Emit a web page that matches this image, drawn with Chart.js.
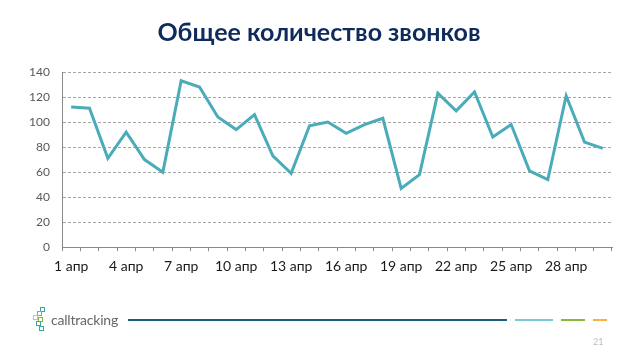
<!DOCTYPE html>
<html>
<head>
<meta charset="utf-8">
<script src="https://cdn.jsdelivr.net/npm/chart.js@4"></script>
<style>
  html, body { margin: 0; padding: 0; background: #fff; }
  #wrap { position: relative; width: 638px; height: 359px; overflow: hidden; }
  #callsChart { position: absolute; left: 0; top: 0; }
  .bar { position: absolute; height: 2px; }
  .sq { position: absolute; width: 5px; height: 5px; border: 1px solid; box-sizing: border-box; }
  #brand { position: absolute; left: 51px; top: 311px; font-family: Lato, sans-serif; font-size: 14px; color: #666; letter-spacing: -0.2px; }
  #page { position: absolute; left: 593px; top: 336px; font-family: Lato, sans-serif; font-size: 9px; color: #bbb; }
</style>
</head>
<body>
<div id="wrap">
  <canvas id="callsChart" width="638" height="359"></canvas>
  <!-- logo -->
  <div class="sq" style="left:40px;top:307px;border-color:#3aa6a0"></div>
  <div class="sq" style="left:37px;top:311px;border-color:#8ab83a"></div>
  <div class="sq" style="left:33px;top:315px;border-color:#e8c23a"></div>
  <div class="sq" style="left:38px;top:317px;border-color:#8ab83a"></div>
  <div class="sq" style="left:36px;top:321px;border-color:#3aa6a0"></div>
  <div class="sq" style="left:39px;top:326px;border-color:#3aa6a0"></div>
  <div id="brand">calltracking</div>
  <div class="bar" style="left:128px;top:319px;width:379px;background:#1f5f7f"></div>
  <div class="bar" style="left:515px;top:319px;width:38px;background:#7ccad3"></div>
  <div class="bar" style="left:561px;top:319px;width:24px;background:#8ab83a"></div>
  <div class="bar" style="left:593px;top:319px;width:14px;background:#f5b43c"></div>
  <div id="page">21</div>
</div>
<script>
const days = [];
for (let d = 1; d <= 30; d++) days.push(d + ' апр');

const calls = [112, 111, 71, 92, 70, 60, 133, 128, 104, 94,
               106, 73, 59, 97, 100, 91, 98, 103, 47, 58,
               123, 109, 124, 88, 98, 61, 54, 121, 84, 79];

const yTicks = [0, 20, 40, 60, 80, 100, 120, 140];

const ctx = document.getElementById('callsChart').getContext('2d');
let callsChart;

function initializeChart() {
    callsChart = new Chart(ctx, {
        type: 'line',
        data: {
            labels: days,
            datasets: [{
                label: 'Звонки',
                data: calls,
                borderColor: '#4aacb8',
                borderWidth: 3,
                pointRadius: 0,
                tension: 0,
                fill: false
            }]
        },
        options: {
            responsive: false,
            animation: false,
            layout: {
                padding: { left: 0, right: 0, top: 0, bottom: 77 }
            },
            plugins: {
                legend: { display: false },
                tooltip: { enabled: false },
                title: {
                    display: true,
                    text: 'Общее количество звонков',
                    color: '#0f2b5b',
                    font: { family: 'Lato', size: 25, weight: 'bold' },
                    padding: { top: 18, bottom: 24 }
                }
            },
            scales: {
                x: {
                    type: 'category',
                    offset: true,
                    grid: {
                        offset: true,
                        drawOnChartArea: false,
                        tickLength: 4,
                        color: '#888'
                    },
                    border: { color: '#888', width: 1 },
                    ticks: {
                        autoSkip: false,
                        maxRotation: 0,
                        color: '#1a1a1a',
                        padding: 7,
                        font: { family: 'Lato', size: 14 },
                        callback: function(value, index) {
                            return index % 3 === 0 ? this.getLabelForValue(value) : '';
                        }
                    }
                },
                y: {
                    min: 0,
                    max: 140,
                    afterBuildTicks: scale => { scale.ticks = yTicks.map(v => ({ value: v })); },
                    afterFit: scale => { scale.width = 62; },
                    grid: {
                        color: '#a6a6a6',
                        drawTicks: false
                    },
                    border: { color: '#888', dash: [3, 2], display: true },
                    ticks: {
                        color: '#595959',
                        padding: 12,
                        font: { family: 'Lato', size: 12 }
                    }
                },
                // empty right-hand margin so the title centres on the whole slide
                spacer: {
                    position: 'right',
                    min: 0,
                    max: 140,
                    afterFit: scale => { scale.width = 26; },
                    grid: { display: false },
                    border: { display: false },
                    ticks: { display: false }
                }
            }
        }
    });
}

initializeChart();
</script>
</body>
</html>
